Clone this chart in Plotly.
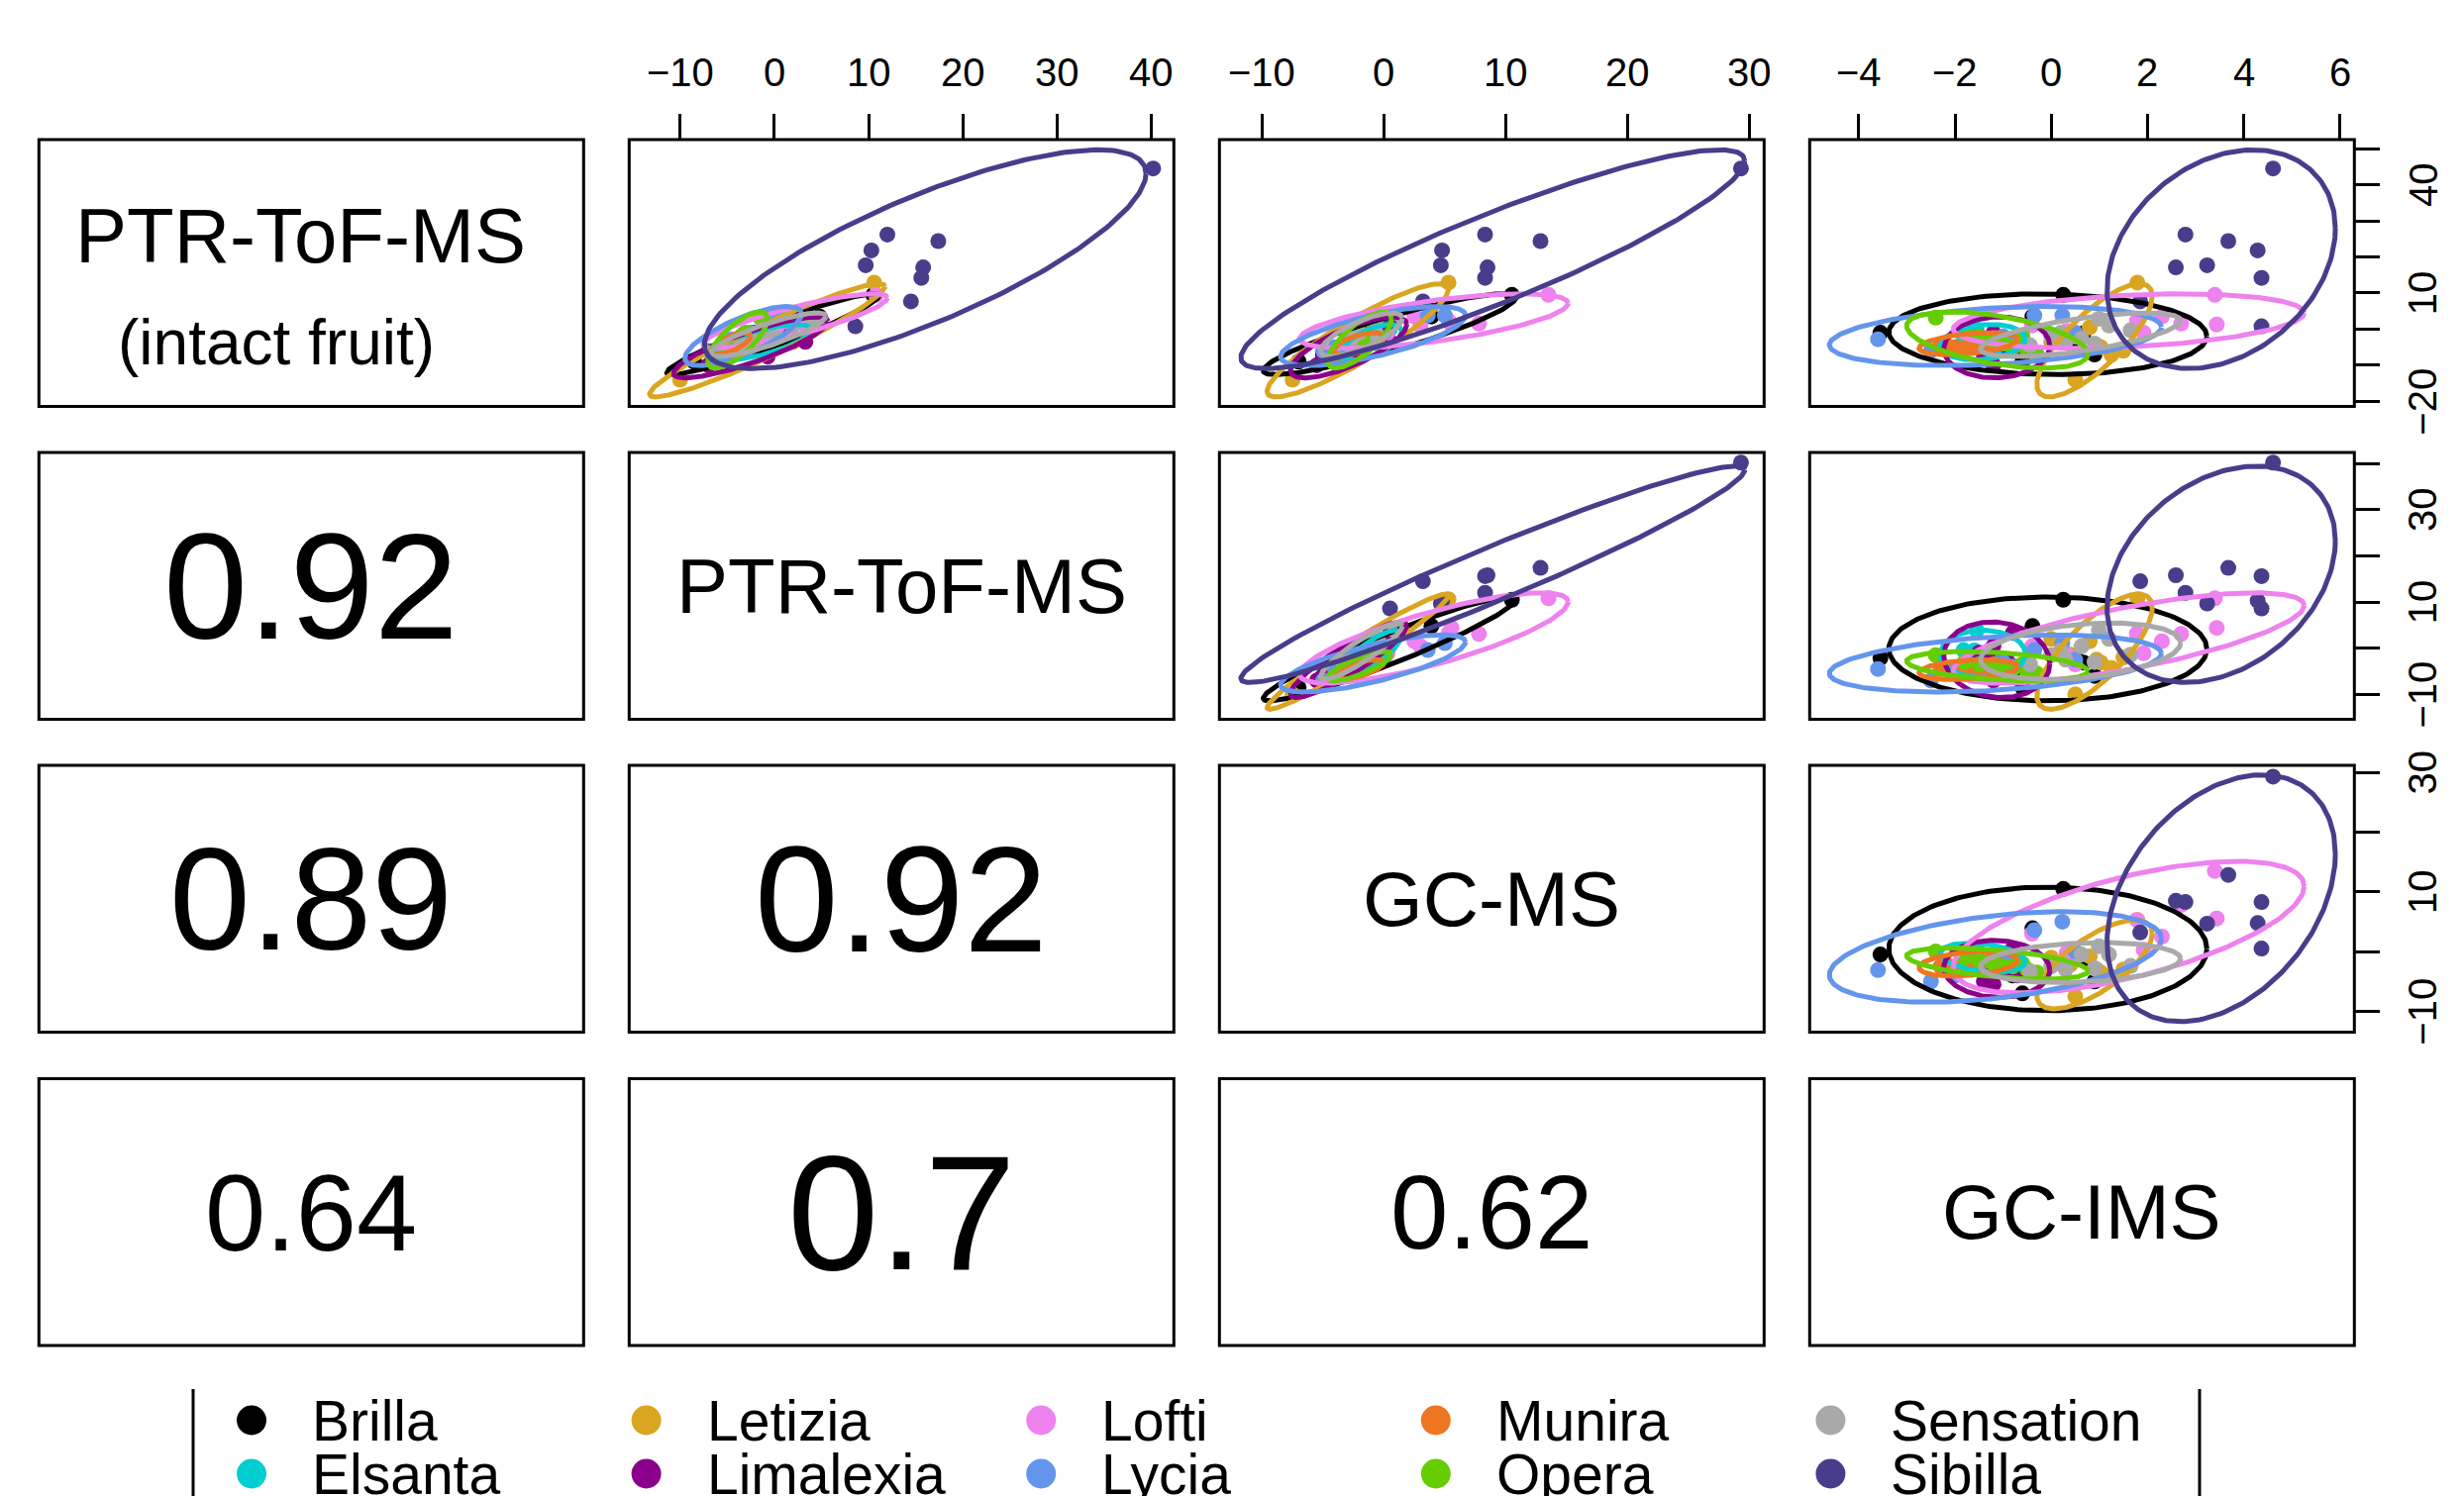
import numpy as np
import plotly.graph_objects as go

W, H = 2488, 1511
FONT = "Liberation Sans, Arial, Helvetica, sans-serif"

# ---------------- data ----------------
CULTIVARS = ["Brilla", "Elsanta", "Letizia", "Limalexia", "Lofti",
             "Lycia", "Munira", "Opera", "Sensation", "Sibilla"]
COLORS = ["#000000", "#00CED1", "#DAA520", "#8B008B", "#EE82EE",
          "#6495ED", "#EE7621", "#66CD00", "#A9A9A9", "#483D8B"]

VAR_LABELS = ["PTR-ToF-MS", "PTR-ToF-MS", "GC-MS", "GC-IMS"]
VAR1_SUBLABEL = "(intact fruit)"

# sample scores per cultivar: columns = PTR-ToF-MS (intact), PTR-ToF-MS, GC-MS, GC-IMS
BRILLA = [[9.5, 10.5, 10.5, 0.25], [-1.0, -2.1, -0.5, -3.55], [3.5, 4.8, 3.9, -0.39],
          [-1.2, -3.1, -1.5, 0.67], [-7.0, -6.0, -5.0, 0.9], [-5.0, -4.0, -3.0, -1.2],
          [-3.0, -2.0, -1.0, 0.5], [-6.0, -5.0, -4.0, -0.8], [-9.0, -8.5, -7.0, -0.6]]
ELSANTA = [[0.0, 3.9, 0.5, -1.55], [-3.0, -0.4, -0.5, -1.82], [-5.0, -3.0, -1.5, -1.2],
           [-6.0, -4.0, -2.0, -1.0], [-2.0, -0.5, -0.5, -1.6], [-4.0, -2.0, -1.5, -1.4],
           [-5.5, -2.0, -2.0, -1.3], [-3.0, -1.0, -1.0, -1.7], [-4.0, -1.5, -0.5, -1.2]]
LETIZIA = [[12.9, 10.6, 5.3, 1.79], [-4.4, -2.5, -3.0, 0.94], [-5.0, -3.1, -3.5, 1.03],
           [-7.1, -4.3, -4.2, 1.25], [-1.5, -1.4, -2.2, 0.4], [-14.0, -10.0, -7.5, 0.5],
           [0.5, 1.5, -0.8, 0.8], [-6.0, -2.0, -3.0, 1.5], [-3.5, 2.0, -1.0, 0.0]]
LIMALEXIA = [[-3.5, 3.3, 0.5, -0.8], [-7.6, -0.7, -2.5, -1.3], [-10.0, -7.0, -5.5, -1.2],
             [-2.0, -1.0, -1.5, -1.5], [-6.0, -4.0, -4.0, -0.7], [-4.0, -3.0, -3.0, -1.0],
             [-8.0, -6.0, -5.0, -1.4], [-1.0, 0.5, -1.0, -1.2], [-5.0, -3.0, -3.0, -0.9]]
LOFTI = [[9.5, 10.8, 13.5, 3.4], [1.55, 3.1, 7.8, 2.70], [1.3, 4.4, 5.55, 3.44],
         [2.3, 3.2, 5.3, 1.78], [-1.0, -1.1, 0.3, 1.92], [-0.5, -1.4, -0.2, 0.32],
         [1.0, 0.4, 3.0, -0.4], [-2.0, -3.5, -1.0, 0.5], [3.5, 1.5, 2.5, 2.3]]
LYCIA = [[-2.8, -4.5, -3.1, -3.6], [3.8, -0.4, 3.6, -0.35], [3.8, 1.1, 5.0, 0.23],
         [-4.0, -5.5, -3.0, -1.5], [-6.0, -7.0, -5.0, -2.5], [-2.0, -3.0, -1.0, -1.0],
         [-1.0, -2.5, 0.0, 0.5], [-5.0, -5.0, -4.0, -2.0], [-3.0, -4.0, -2.0, -0.8]]
MUNIRA = [[-3.0, -4.0, -1.5, -1.5], [-5.0, -5.5, -2.5, -2.0], [-4.0, -4.5, -2.0, -2.2],
          [-3.5, -4.0, -1.5, -1.3], [-5.5, -5.5, -3.0, -1.8], [-4.0, -5.0, -2.0, -1.6],
          [-2.5, -3.5, -1.0, -1.2], [-4.5, -4.5, -2.5, -2.3], [-4.0, -5.0, -2.5, -1.7]]
OPERA = [[3.2, -1.5, 0.0, -2.4], [-2.0, -3.5, -1.5, -1.5], [-5.0, -4.5, -2.5, -0.8],
         [-7.0, -5.5, -3.5, -0.3], [-4.0, -4.5, -2.5, -1.0], [-1.0, -3.0, -1.0, -1.8],
         [-3.0, -4.0, -2.0, -1.2], [-6.0, -5.0, -3.0, -0.5], [-2.0, -3.5, -2.0, -0.6]]
SENSATION = [[2.9, 3.9, 0.9, 0.99], [-2.6, 0.4, -0.5, 0.63], [-0.3, -1.4, -2.4, 1.65],
             [-4.5, -3.5, -3.3, -0.44], [-1.0, -0.5, -2.0, 0.2], [1.0, 2.0, -0.5, 1.2],
             [-3.5, -2.5, -3.0, 0.3], [-2.0, -1.5, -2.5, 0.0], [-4.0, -3.0, -2.8, 0.9]]
SIBILLA = [[44.5, 40.2, 29.3, 4.61], [26.2, 12.0, 8.3, 2.79], [21.8, 10.3, 4.77, 4.29],
           [24.4, 17.4, 12.85, 3.68], [17.7, 9.7, 4.67, 3.24], [17.1, 15.8, 8.5, 2.59],
           [14.2, 15.6, 8.3, 4.37], [7.7, 14.5, 3.2, 1.85], [0.8, 8.6, 0.5, 4.37]]
POINTS = [BRILLA, ELSANTA, LETIZIA, LIMALEXIA, LOFTI, LYCIA, MUNIRA, OPERA, SENSATION, SIBILLA]

# 95% data-ellipse statistics read from the drawn ellipses (mean, sd per variable;
# correlations r12, r13, r14, r23, r24, r34). Sibilla is computed from its points.
ELL_MEAN = {
    "Brilla": [-1.4, -0.15, 0.45, -0.07], "Elsanta": [-3.6, -1.25, -1.0, -1.42],
    "Letizia": [-3.1, -0.75, -2.15, 0.9], "Limalexia": [-5.05, -2.5, -2.9, -1.13],
    "Lofti": [2.25, 2.2, 4.1, 1.61], "Lycia": [-1.9, -3.3, -0.9, -1.16],
    "Munira": [-4.05, -4.65, -2.05, -1.72], "Opera": [-3.0, -3.9, -2.0, -1.12],
    "Sensation": [-1.55, -0.65, -1.85, 0.61]}
ELL_SD = {
    "Brilla": [4.57, 4.6, 4.23, 1.35], "Elsanta": [2.0, 2.1, 1.0, 0.36],
    "Letizia": [6.4, 5.1, 3.04, 0.49], "Limalexia": [3.45, 3.35, 1.95, 0.45],
    "Lofti": [3.08, 4.0, 4.5, 1.49], "Lycia": [3.35, 2.53, 3.1, 1.41],
    "Munira": [1.25, 0.88, 0.84, 0.42], "Opera": [3.18, 1.3, 1.07, 0.77],
    "Sensation": [2.47, 2.5, 1.37, 0.85]}
ELL_CORR = {
    "Brilla": [0.95, 0.9, -0.05, 0.95, 0.0, 0.0], "Elsanta": [0.7, 0.6, 0.2, 0.8, 0.0, -0.3],
    "Letizia": [0.95, 0.9, 0.78, 0.97, 0.76, 0.7], "Limalexia": [0.85, 0.75, 0.05, 0.9, -0.1, -0.05],
    "Lofti": [0.85, 0.65, 0.3, 0.8, 0.72, 0.62], "Lycia": [0.75, 0.7, 0.3, 0.75, 0.35, 0.4],
    "Munira": [0.7, 0.6, 0.4, 0.7, 0.3, 0.3], "Opera": [0.75, 0.75, -0.5, 0.8, -0.35, -0.5],
    "Sensation": [0.85, 0.75, 0.65, 0.9, 0.3, 0.2]}
PAIR_INDEX = {(0, 1): 0, (0, 2): 1, (0, 3): 2, (1, 2): 3, (1, 3): 4, (2, 3): 5}

# correlation coefficients shown in the lower panels (row, col)
CORR_TEXT = {(1, 0): "0.92", (2, 0): "0.89", (2, 1): "0.92",
             (3, 0): "0.64", (3, 1): "0.7", (3, 2): "0.62"}

# ---------------- layout constants ----------------
COL_X = [(39.3, 589.3), (635.3, 1185.3), (1231.3, 1781.3), (1827.3, 2377.3)]
ROW_Y = [(141.0, 410.5), (457.0, 726.5), (773.0, 1042.5), (1089.5, 1359.0)]
VAR_RANGE = [(-21.4, 52.5), (-15.4, 42.4), (-13.5, 31.2), (-5.02, 6.30)]
TOP_TICKS = {1: [-10, 0, 10, 20, 30, 40], 2: [-10, 0, 10, 20, 30], 3: [-4, -2, 0, 2, 4, 6]}
RIGHT_TICKS = {0: ([-20, -10, 0, 10, 20, 30, 40, 50], [-20, 10, 40]),
               1: ([-10, 0, 10, 20, 30, 40], [-10, 10, 30]),
               2: ([-10, 0, 10, 20, 30], [-10, 10, 30])}
CORR_SIZE = {(1, 0): 153, (2, 0): 147, (2, 1): 152, (3, 0): 110, (3, 1): 166, (3, 2): 105}
TICK_FONT = 40
POINT_SIZE = 16
ELL_WIDTH = 5
CHI = float(np.sqrt(5.991464547))
LEG_TOP = 1380.0


def lab(v):
    return str(v).replace("-", "\u2212")


def ellipse(mx, my, sx, sy, r, n=240):
    t = np.linspace(0, 2 * np.pi, n)
    x = mx + CHI * sx * np.cos(t)
    y = my + CHI * sy * (r * np.cos(t) + np.sqrt(1 - r * r) * np.sin(t))
    return [float(v) for v in x], [float(v) for v in y]


def stats(k):
    name = CULTIVARS[k]
    if name in ELL_MEAN:
        return ELL_MEAN[name], ELL_SD[name], ELL_CORR[name]
    a = np.array(POINTS[k], dtype=float)
    m = a.mean(axis=0)
    s = a.std(axis=0, ddof=1)
    c = np.corrcoef(a.T)
    corr = [float(c[i, j]) for (i, j) in sorted(PAIR_INDEX, key=PAIR_INDEX.get)]
    return [float(v) for v in m], [float(v) for v in s], corr


def aid(n):
    return "" if n == 1 else str(n)


fig = go.Figure()
layout = dict(width=W, height=H, autosize=False,
              margin=dict(l=0, r=0, t=0, b=0, pad=0, autoexpand=False),
              paper_bgcolor="white", plot_bgcolor="rgba(0,0,0,0)",
              showlegend=False, font=dict(family=FONT, color="black"))
shapes, annotations = [], []

for r in range(4):
    for c in range(4):
        n = r * 4 + c + 1
        xa = dict(domain=[COL_X[c][0] / W, COL_X[c][1] / W], anchor="y" + aid(n),
                  showgrid=False, zeroline=False, showline=False, fixedrange=True,
                  automargin=False, showticklabels=False, ticks="")
        ya = dict(domain=[1 - ROW_Y[r][1] / H, 1 - ROW_Y[r][0] / H], anchor="x" + aid(n),
                  showgrid=False, zeroline=False, showline=False, fixedrange=True,
                  automargin=False, showticklabels=False, ticks="")
        if r < c:
            xa["range"] = list(VAR_RANGE[c])
            ya["range"] = list(VAR_RANGE[r])
        else:
            xa["range"] = [0, 1]
            ya["range"] = [0, 1]
        if r == 0 and c >= 1:
            tv = TOP_TICKS[c]
            xa.update(side="top", ticks="outside", ticklen=25, tickwidth=3, tickcolor="black",
                      tickmode="array", tickvals=tv)
            for v in tv:
                annotations.append(dict(x=v, y=1, xref="x" + aid(n), yref="y" + aid(n) + " domain",
                                        text=lab(v), showarrow=False, xanchor="center",
                                        yanchor="middle", yshift=68,
                                        font=dict(size=TICK_FONT, family=FONT, color="black")))
        if c == 3 and r <= 2:
            tv, shown = RIGHT_TICKS[r]
            ya.update(side="right", ticks="outside", ticklen=25, tickwidth=3, tickcolor="black",
                      tickmode="array", tickvals=tv)
            for v in shown:
                annotations.append(dict(x=1, y=v, xref="x" + aid(n) + " domain", yref="y" + aid(n),
                                        text=lab(v), showarrow=False, xanchor="center",
                                        yanchor="middle", xshift=69, textangle=-90,
                                        font=dict(size=TICK_FONT, family=FONT, color="black")))
        layout["xaxis" + aid(n)] = xa
        layout["yaxis" + aid(n)] = ya
        shapes.append(dict(type="rect", xref="x" + aid(n) + " domain", yref="y" + aid(n) + " domain",
                           x0=0, x1=1, y0=0, y1=1, line=dict(color="black", width=3),
                           fillcolor="rgba(0,0,0,0)", layer="above"))

        if r < c:
            for k, name in enumerate(CULTIVARS):
                xs = [float(p[c]) for p in POINTS[k]]
                ys = [float(p[r]) for p in POINTS[k]]
                fig.add_trace(go.Scatter(x=xs, y=ys, mode="markers",
                                         marker=dict(size=POINT_SIZE, color=COLORS[k], line=dict(width=0)),
                                         xaxis="x" + aid(n), yaxis="y" + aid(n), hoverinfo="skip"))
            for k, name in enumerate(CULTIVARS):
                m, s, cr = stats(k)
                rho = cr[PAIR_INDEX[(r, c)]]
                ex, ey = ellipse(m[c], m[r], s[c], s[r], rho)
                fig.add_trace(go.Scatter(x=ex, y=ey, mode="lines",
                                         line=dict(color=COLORS[k], width=ELL_WIDTH),
                                         xaxis="x" + aid(n), yaxis="y" + aid(n), hoverinfo="skip"))
        elif r == c:
            if r == 0:
                annotations.append(dict(x=0.481, y=0.64, xref="x", yref="y", text=VAR_LABELS[0],
                                        showarrow=False, xanchor="center", yanchor="middle",
                                        font=dict(size=78, family=FONT, color="black")))
                annotations.append(dict(x=0.435, y=0.24, xref="x", yref="y", text=VAR1_SUBLABEL,
                                        showarrow=False, xanchor="center", yanchor="middle",
                                        font=dict(size=64, family=FONT, color="black")))
            else:
                annotations.append(dict(x=0.5, y=0.5, xref="x" + aid(n), yref="y" + aid(n),
                                        text=VAR_LABELS[r], showarrow=False,
                                        xanchor="center", yanchor="middle",
                                        font=dict(size=78, family=FONT, color="black")))
        else:
            annotations.append(dict(x=0.5, y=0.5, xref="x" + aid(n), yref="y" + aid(n),
                                    text=CORR_TEXT[(r, c)], showarrow=False,
                                    xanchor="center", yanchor="middle",
                                    font=dict(size=CORR_SIZE[(r, c)], family=FONT, color="black")))

# ---------------- legend (bottom, 5 columns x 2 rows, column-major) ----------------
LEG_X0, LEG_DX, LEG_ROWS_Y, LEG_TXT_DX = 254.0, 398.6, [1434.5, 1488.5], 59.0
LEG_N = 17
layout["xaxis%d" % LEG_N] = dict(domain=[0, 1], range=[0, W], visible=False, fixedrange=True,
                                 anchor="y%d" % LEG_N, automargin=False)
layout["yaxis%d" % LEG_N] = dict(domain=[0, (H - LEG_TOP) / H], range=[H, LEG_TOP], visible=False,
                                 fixedrange=True, anchor="x%d" % LEG_N, automargin=False)
lx = [LEG_X0 + LEG_DX * (k // 2) for k in range(len(CULTIVARS))]
ly = [LEG_ROWS_Y[k % 2] for k in range(len(CULTIVARS))]
fig.add_trace(go.Scatter(x=lx, y=ly, mode="markers", cliponaxis=False,
                         marker=dict(size=30, color=COLORS, line=dict(width=0)),
                         xaxis="x%d" % LEG_N, yaxis="y%d" % LEG_N, hoverinfo="skip"))
for k, name in enumerate(CULTIVARS):
    annotations.append(dict(x=lx[k] + LEG_TXT_DX, y=ly[k], xref="x%d" % LEG_N, yref="y%d" % LEG_N,
                            text=name, showarrow=False, xanchor="left", yanchor="middle",
                            font=dict(size=57, family=FONT, color="black")))
for xv in (195.0, 2221.0):
    shapes.append(dict(type="line", xref="x%d" % LEG_N, yref="y%d" % LEG_N,
                       x0=xv, x1=xv, y0=1403, y1=H + 5, line=dict(color="black", width=3)))

layout["shapes"] = shapes
layout["annotations"] = annotations
fig.update_layout(**layout)
fig.write_html("out.html", config={"displayModeBar": False},
               post_script="document.body.style.margin='0px';document.body.style.overflow='hidden';")
